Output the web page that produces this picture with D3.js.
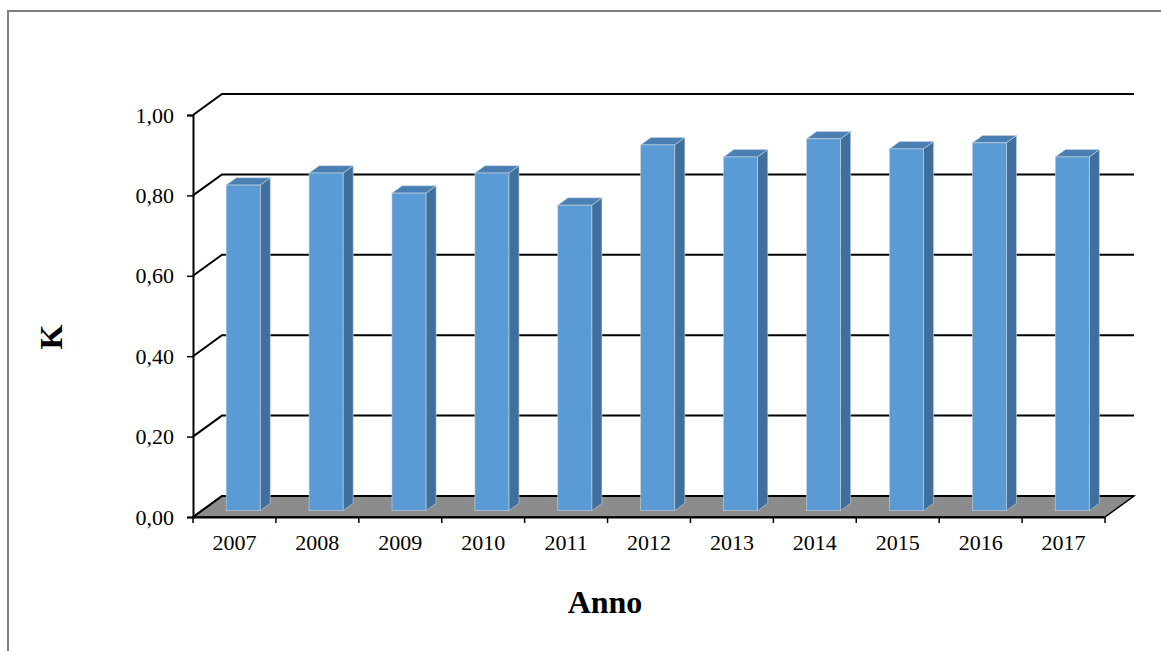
<!DOCTYPE html>
<html>
<head>
<meta charset="utf-8">
<script src="https://cdn.jsdelivr.net/npm/d3@7"></script>
<style>
  body { margin: 0; background: #fff; }
  svg text { font-family: "Liberation Serif", "Times New Roman", serif; }
</style>
</head>
<body>
<div id="chart"></div>
<script>
var years = ["2007", "2008", "2009", "2010", "2011", "2012", "2013", "2014", "2015", "2016", "2017"];
var kValues = [0.81, 0.84, 0.79, 0.84, 0.76, 0.91, 0.88, 0.925, 0.90, 0.915, 0.88];
var yTicks = [0, 0.2, 0.4, 0.6, 0.8, 1.0];

var W = 1161, H = 651;
var plotLeft = 193, plotRight = 1105, plotTop = 115, plotBottom = 517;
var depthX = 29, depthY = -21;   // full depth of the 3d box
var barFront = 0.3, barBack = 0.65;

var svg = d3.select("#chart").append("svg")
    .attr("width", W)
    .attr("height", H);

// chart frame
svg.append("path")
    .attr("d", "M8," + H + "V11H" + W)
    .attr("fill", "none")
    .attr("stroke", "#7f7f7f")
    .attr("stroke-width", 2);

var x = d3.scaleBand().domain(years).range([plotLeft, plotRight]);
var y = d3.scaleLinear().domain([0, 1]).range([plotBottom, plotTop]);

var locale = d3.formatLocale({ decimal: ",", thousands: ".", grouping: [3], currency: ["", "€"] });
var fmt = locale.format(".2f");

// floor
svg.append("polygon")
    .attr("points", [
        [plotLeft, y(0)], [plotRight, y(0)],
        [plotRight + depthX, y(0) + depthY], [plotLeft + depthX, y(0) + depthY]
    ].join(" "))
    .attr("fill", "#8c8c8c")
    .attr("stroke", "#000")
    .attr("stroke-width", 1.5);

// gridlines: side wall + back wall
var grid = svg.append("g");
grid.selectAll("path")
    .data(yTicks)
    .enter()
    .append("path")
    .attr("d", function(d) {
        return "M" + plotLeft + "," + y(d) +
            "L" + (plotLeft + depthX) + "," + (y(d) + depthY) +
            "H" + (plotRight + depthX);
    })
    .attr("fill", "none")
    .attr("stroke", "#000")
    .attr("stroke-width", 2);

// bars
var bw = x.bandwidth() * 0.41;
var fx = depthX * barFront, fy = depthY * barFront;
var dx = depthX * (barBack - barFront), dy = depthY * (barBack - barFront);

var bars = svg.selectAll(".bar")
    .data(years)
    .enter()
    .append("g")
    .attr("class", "bar");

function x0(d) { return x(d) + x.bandwidth() / 2 - bw / 2 + fx; }
function yTop(d, i) { return y(kValues[i]) + fy; }
var yBase = y(0) + fy;

bars.append("polygon")
    .attr("points", function(d, i) {
        var a = x0(d) + bw, t = yTop(d, i);
        return [[a, t], [a + dx, t + dy], [a + dx, yBase + dy], [a, yBase]].join(" ");
    })
    .attr("fill", "#3f6f9c")
    .attr("stroke", "#c9d3dc")
    .attr("stroke-width", 0.6);

bars.append("polygon")
    .attr("points", function(d, i) {
        var a = x0(d), t = yTop(d, i);
        return [[a, t], [a + dx, t + dy], [a + bw + dx, t + dy], [a + bw, t]].join(" ");
    })
    .attr("fill", "#4a7fb4")
    .attr("stroke", "#c9d3dc")
    .attr("stroke-width", 0.6);

bars.append("rect")
    .attr("x", function(d) { return x0(d); })
    .attr("y", function(d, i) { return yTop(d, i); })
    .attr("width", bw)
    .attr("height", function(d, i) { return yBase - yTop(d, i); })
    .attr("fill", "#5b9bd5")
    .attr("stroke", "#c9d3dc")
    .attr("stroke-width", 0.6);

// y axis
var yAxis = svg.append("g")
    .attr("transform", "translate(" + plotLeft + ",0)")
    .call(d3.axisLeft(y).tickValues(yTicks).tickFormat(fmt).tickSize(6).tickPadding(13));
yAxis.select(".domain").attr("stroke", "#000").attr("stroke-width", 2);
yAxis.selectAll(".tick line").attr("stroke", "#000").attr("stroke-width", 1.5);
yAxis.selectAll("text").attr("font-size", 22).attr("fill", "#000")
    .attr("font-family", "Liberation Serif");

// x axis
var xAxis = svg.append("g")
    .attr("transform", "translate(0," + plotBottom + ")")
    .call(d3.axisBottom(x).tickSize(0).tickPadding(17));
xAxis.select(".domain").attr("stroke", "#000").attr("stroke-width", 2);
xAxis.selectAll("text").attr("font-size", 22).attr("fill", "#000")
    .attr("font-family", "Liberation Serif");

xAxis.selectAll(".sep")
    .data(years.concat(["end"]))
    .enter()
    .append("line")
    .attr("class", "sep")
    .attr("x1", function(d) { return d === "end" ? plotRight : x(d); })
    .attr("x2", function(d) { return d === "end" ? plotRight : x(d); })
    .attr("y1", 0)
    .attr("y2", 6)
    .attr("stroke", "#000")
    .attr("stroke-width", 1.5);

// axis titles
svg.append("text")
    .attr("x", 605)
    .attr("y", 613)
    .attr("text-anchor", "middle")
    .attr("font-size", 32)
    .attr("font-weight", "bold")
    .text("Anno");

svg.append("text")
    .attr("transform", "translate(62,337) rotate(-90)")
    .attr("text-anchor", "middle")
    .attr("font-size", 32)
    .attr("font-weight", "bold")
    .text("K");
</script>
</body>
</html>
